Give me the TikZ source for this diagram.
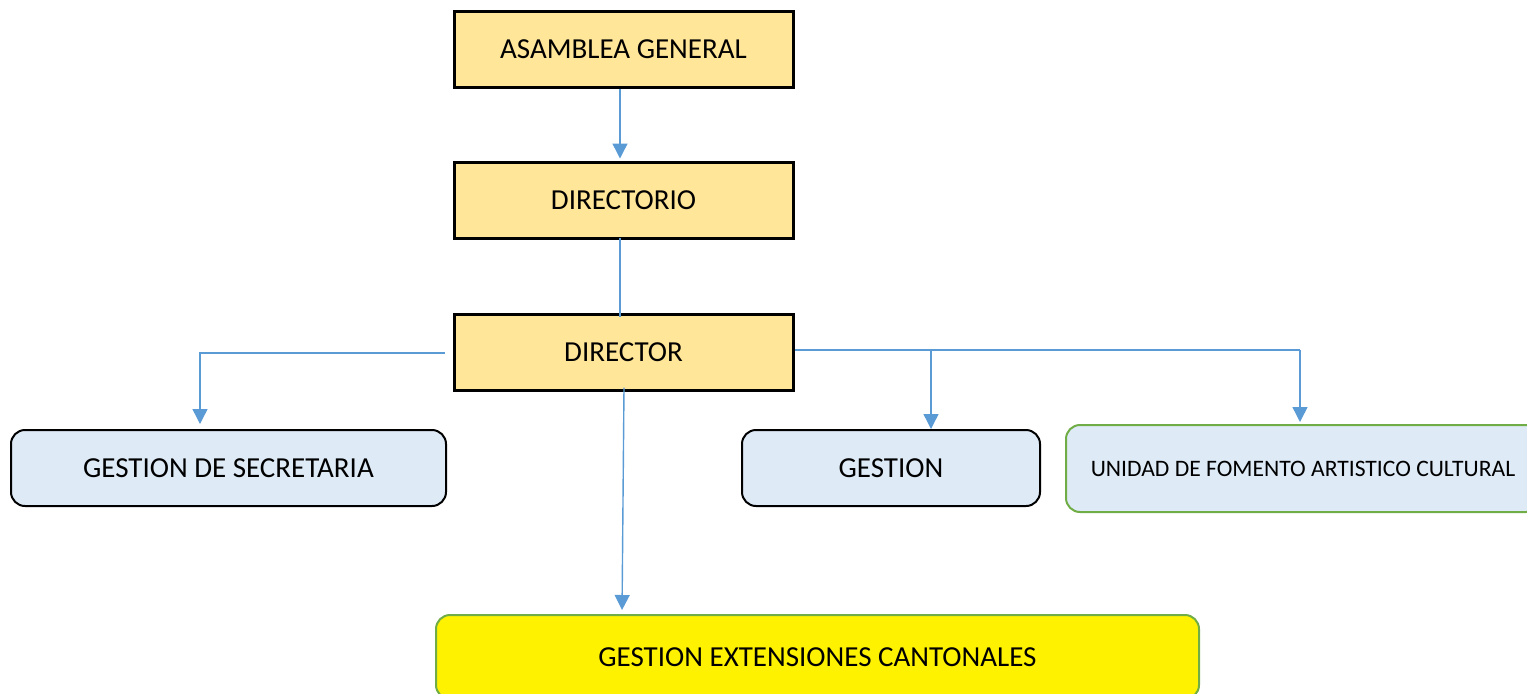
\documentclass[tikz,border=0pt]{standalone}
\usepackage{fontspec}
\setmainfont{Carlito}
\usetikzlibrary{arrows.meta}
\definecolor{ybox}{HTML}{FFE699}
\definecolor{bbox}{HTML}{DEEBF7}
\definecolor{gline}{HTML}{70AD47}
\definecolor{conncol}{HTML}{5B9BD5}
\tikzset{
  topbox/.style={draw=black, line width=1.5pt, fill=ybox, minimum width=169.5pt, minimum height=38pt, inner sep=0pt, font=\fontsize{14.5}{17}\selectfont},
  subbox/.style={draw=black, line width=1pt, fill=bbox, rounded corners=7pt, minimum height=38pt, inner sep=0pt, font=\fontsize{14.5}{17}\selectfont},
  greenbox/.style={draw=gline, line width=1pt, rounded corners=7pt, inner sep=0pt},
  conn/.style={draw=conncol, line width=0.7pt},
  arr/.style={conn, -{Triangle[width=7.5pt,length=7.5pt]}}
}
\begin{document}
\begin{tikzpicture}[x=0.5pt, y=-0.5pt]
\useasboundingbox (0,0) rectangle (1527,693);
\clip (0,0) rectangle (1527,693);
\node[topbox] (asam) at (623.5,49) {ASAMBLEA GENERAL};
\node[topbox] (dirio) at (623.5,200) {DIRECTORIO};
\node[topbox] (dir) at (623.5,352) {DIRECTOR};
\node[subbox, minimum width=217.5pt] (sec) at (228.5,468) {GESTION DE SECRETARIA};
\node[subbox, minimum width=149pt] (ges) at (891,468) {GESTION};
\node[greenbox, fill=bbox, minimum width=237pt, minimum height=43.5pt, font=\fontsize{11.8}{14}\selectfont] (uni) at (1303,468.5) {UNIDAD DE FOMENTO ARTISTICO CULTURAL};
\node[greenbox, fill=yellow, minimum width=381.5pt, minimum height=42pt, font=\fontsize{14.5}{17}\selectfont] (ext) at (817.5,657) {GESTION EXTENSIONES CANTONALES};
\coordinate (lj) at (200,353);
\coordinate (rj) at (1300,350);
\coordinate (mj) at (931,350);
\draw[arr, shorten >=1pt] ([xshift=-1.75pt]asam.south) -- ([xshift=-1.75pt]dirio.north);
\draw[conn] ([xshift=-1.75pt, yshift=1pt]dirio.south) -- ([xshift=-1.75pt, yshift=-2pt]dir.north);
\draw[arr, shorten >=2.5pt] ([xshift=-4pt, yshift=-0.5pt]dir.west) -| (lj |- sec.north);
\draw[conn] (dir.east |- rj) -- (rj);
\draw[arr] (mj) -- (mj |- ges.north);
\draw[arr, shorten >=1pt] (rj) -- (rj |- uni.north);
\draw[arr, shorten >=2.5pt] ([xshift=0.25pt, yshift=2pt]dir.south) -- (622,615);
\end{tikzpicture}
\end{document}
